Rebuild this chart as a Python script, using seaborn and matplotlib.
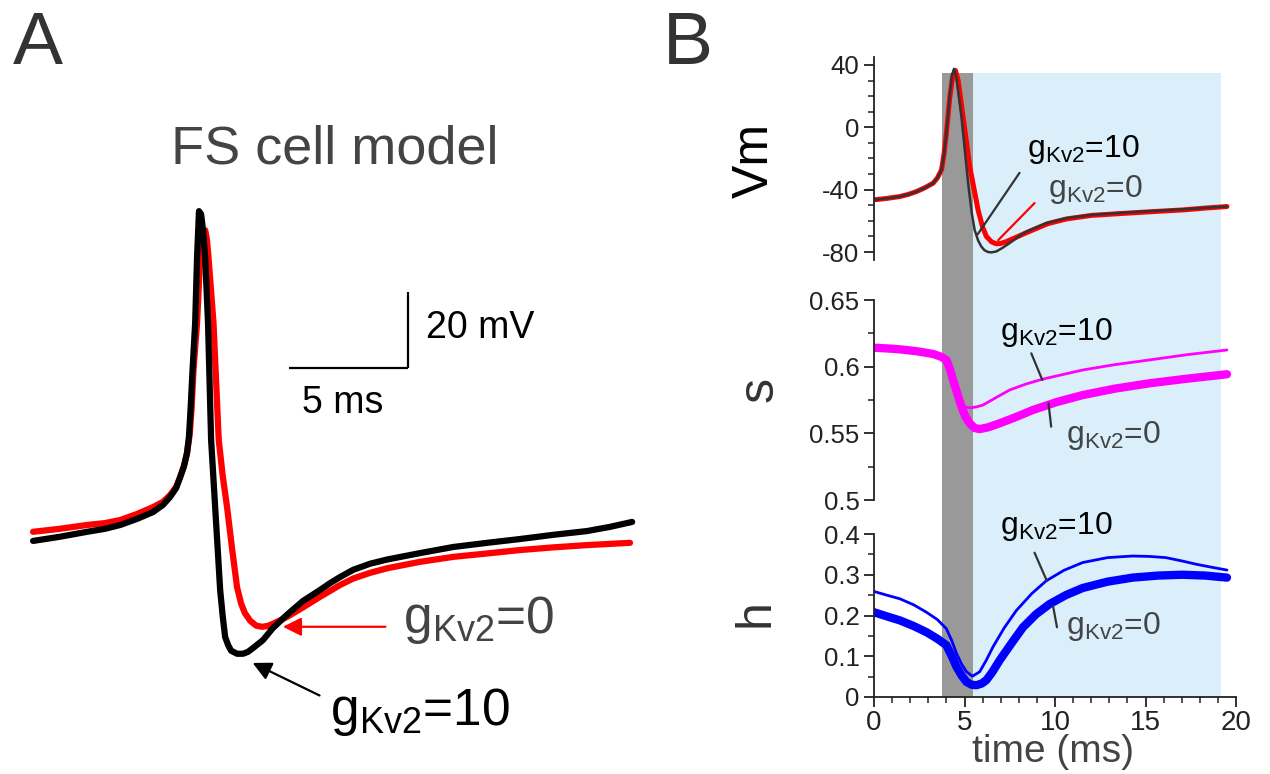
import matplotlib
matplotlib.use("Agg")
import matplotlib.pyplot as plt
from matplotlib.ticker import MultipleLocator
import seaborn as sns

# ---- panel A: FS cell model, membrane potential (ms, mV) ----
a_t_g0 = [0, 1.13, 2.27, 3.03, 3.66, 4.37, 5.04, 5.46, 5.76, 6.01, 6.18, 6.34, 6.47, 6.58, 6.66, 6.74,
          6.89, 7.02, 7.14, 7.23, 7.30, 7.37, 7.58, 7.80, 7.97, 8.15, 8.36, 8.57, 8.74, 8.90, 9.12,
          9.37, 9.62, 9.85, 10.08, 10.67, 11.34, 12.06, 12.90, 13.45, 14.16, 14.87, 16.26, 17.65,
          19.08, 20.46, 21.85, 23.28, 25.08]
a_v_g0 = [-44.6, -43.8, -42.8, -42.3, -41.5, -39.9, -38.1, -36.7, -34.9, -32.8, -30.2, -27.3, -23.8, -19.0, -12.0, -2.0,
          10.4, 27.7, 32.5, 34.8, 32.5, 27.7, 10.4, -20.4, -30.0, -38.1, -49.0, -59.2, -63.5, -66.0, -68.0,
          -69.3, -69.6, -69.4, -68.8, -67.0, -64.5, -61.7, -58.6, -56.9, -55.4, -54.2, -52.5, -51.2,
          -50.3, -49.4, -48.7, -48.1, -47.5]
a_t_g10 = [0, 1.13, 2.27, 3.03, 3.66, 4.37, 5.04, 5.46, 5.76, 6.01, 6.18, 6.34, 6.47, 6.55, 6.62, 6.70,
           6.81, 6.89, 6.97, 7.06, 7.14, 7.23, 7.35, 7.48, 7.65, 7.86, 7.97, 8.07, 8.20, 8.32, 8.57,
           8.82, 9.03, 9.24, 9.66, 10.08, 10.71, 11.34, 12.06, 12.48, 12.90, 13.45, 14.16, 14.87,
           16.26, 17.65, 19.08, 20.46, 21.85, 23.28, 24.24, 25.17]
a_v_g10 = [-47.0, -45.9, -44.6, -43.8, -42.8, -41.2, -39.4, -37.5, -35.4, -33.1, -30.2, -27.3, -23.8, -19.5, -12.0, -2.0,
           10.4, 27.7, 39.8, 39.0, 34.8, 27.7, 10.4, -20.4, -38.1, -59.9, -67.0, -72.3, -74.5, -75.9, -76.7,
           -76.7, -76.2, -75.2, -73.1, -69.9, -66.2, -62.8, -59.9, -58.1, -56.5, -54.6, -53.0, -51.9,
           -50.2, -48.6, -47.5, -46.5, -45.4, -44.4, -43.3, -42.0]

# ---- panel B: Vm, s and h vs time ----
vm_t_g0 = [0, 0.7, 1.43, 1.9, 2.35, 2.8, 3.27, 3.5, 3.73, 3.87, 4.0, 4.19, 4.35, 4.5, 4.65, 4.92,
           5.29, 5.75, 6.0, 6.21, 6.5, 6.76, 7.0, 7.31, 7.8, 8.3, 8.78, 9.6, 10.62, 12.0, 13.92,
           15.5, 17.04, 18.3, 19.5]
vm_g0 = [-46.5, -45.6, -44.4, -43.0, -41.2, -38.8, -35.8, -32.5, -27.3, -17.0, -3.6, 19.7, 33.0, 36.5, 30.0, 6.9,
         -25.2, -53.0, -64.0, -70.0, -73.5, -74.7, -74.5, -73.3, -70.8, -68.2, -65.8, -61.8, -58.8, -56.5, -55.1,
         -54.0, -53.0, -51.8, -50.8]
vm_t_g10 = [0, 0.7, 1.43, 1.9, 2.35, 2.8, 3.27, 3.5, 3.73, 3.87, 4.0, 4.19, 4.3, 4.42, 4.55, 4.83,
            5.2, 5.4, 5.56, 5.75, 5.93, 6.1, 6.3, 6.5, 6.76, 7.1, 7.49, 7.95, 8.41, 9.5, 10.62, 12.0,
            13.92, 15.5, 17.04, 18.3, 19.5]
vm_g10 = [-46.5, -45.6, -44.4, -43.0, -41.2, -38.8, -35.8, -32.5, -27.3, -17.0, -3.6, 21.0, 33.0, 37.5, 32.0, 6.9,
          -35.8, -55.0, -65.8, -72.5, -76.5, -78.8, -80.0, -80.2, -79.6, -77.3, -74.3, -70.4, -66.9, -61.5, -58.3,
          -56.2, -54.6, -53.6, -52.6, -51.6, -50.8]

s_t_g0 = [0, 0.7, 1.43, 2.4, 3.27, 3.7, 4.0, 4.2, 4.37, 4.6, 4.83, 5.05, 5.29, 5.55, 5.84, 6.3,
          6.94, 7.8, 8.78, 10.1, 11.53, 13.3, 15.2, 17.3, 19.5]
s_g0 = [0.6142, 0.6137, 0.613, 0.6115, 0.6095, 0.6075, 0.605, 0.598, 0.590, 0.580, 0.570, 0.5625, 0.5575,
        0.554, 0.5532, 0.5545, 0.5575, 0.562, 0.5675, 0.5735, 0.5787, 0.5835, 0.5875, 0.591, 0.5943]
s_t_g10 = [0, 0.7, 1.43, 2.4, 3.27, 3.7, 4.0, 4.2, 4.37, 4.6, 4.83, 5.1, 5.38, 5.7, 6.02, 6.7,
           7.49, 8.4, 9.33, 10.4, 11.53, 13.3, 15.2, 17.3, 19.5]
s_g10 = [0.6142, 0.6137, 0.613, 0.6115, 0.6095, 0.6075, 0.605, 0.598, 0.590, 0.580, 0.5725, 0.5695, 0.5692,
         0.570, 0.5712, 0.5765, 0.5825, 0.587, 0.5907, 0.594, 0.5975, 0.6015, 0.605, 0.609, 0.6125]

h_t_g0 = [0, 0.7, 1.43, 2.2, 2.9, 3.5, 4.0, 4.3, 4.56, 4.85, 5.11, 5.4, 5.66, 5.95, 6.21, 6.55,
          6.94, 7.6, 8.23, 8.95, 9.70, 10.6, 11.53, 12.9, 14.29, 15.7, 17.04, 18.3, 19.5]
h_g0 = [0.208, 0.198, 0.188, 0.174, 0.159, 0.143, 0.127, 0.100, 0.074, 0.052, 0.037, 0.030, 0.029, 0.033,
        0.0415, 0.062, 0.090, 0.132, 0.171, 0.203, 0.228, 0.250, 0.2675, 0.283, 0.293, 0.298, 0.300, 0.298, 0.293]
h_t_g10 = [0, 0.7, 1.43, 2.2, 2.9, 3.5, 4.0, 4.3, 4.56, 4.85, 5.11, 5.44, 5.84, 6.2, 6.57, 7.2,
           7.86, 8.7, 9.51, 10.5, 11.53, 12.9, 14.29, 15.2, 16.13, 17.0, 17.78, 18.7, 19.5]
h_g10 = [0.259, 0.250, 0.241, 0.226, 0.208, 0.190, 0.1675, 0.138, 0.1066, 0.080, 0.062, 0.051, 0.062, 0.090,
         0.1227, 0.170, 0.212, 0.253, 0.285, 0.311, 0.330, 0.342, 0.346, 0.345, 0.342, 0.334, 0.326, 0.318, 0.3115]

# shaded windows (ms)
spike_window = (3.78, 5.47)
ahp_window = (5.47, 19.16)

W, H = 1270, 774

sns.set_theme(style="ticks")
plt.rcParams["font.family"] = ["Liberation Sans", "DejaVu Sans"]
plt.rcParams["mathtext.fontset"] = "custom"
plt.rcParams["mathtext.rm"] = "Liberation Sans"
plt.rcParams["mathtext.it"] = "Liberation Sans:italic"
plt.rcParams["mathtext.bf"] = "Liberation Sans:bold"
plt.rcParams["axes.facecolor"] = "none"
plt.rcParams["axes.unicode_minus"] = False
plt.rcParams["lines.solid_joinstyle"] = "round"
plt.rcParams["lines.solid_capstyle"] = "round"

DARK = "#222222"
GREY = "#444444"


def gk(val):
    return r"g$_{\mathrm{Kv2}}$=" + val


def box(x0, y0, x1, y1):
    # pixel box (top-left origin) -> figure rect
    return [x0 / W, 1 - y1 / H, (x1 - x0) / W, (y1 - y0) / H]


def ftext(x, y, s, **kw):
    fig.text(x / W, 1 - y / H, s, ha="center", va="center", **kw)


def style_axis(ax):
    ax.tick_params(which="major", direction="out", length=7, width=1.3, colors=DARK, labelsize=18.5)
    ax.tick_params(which="minor", direction="out", length=4, width=1.1, colors=DARK)
    for sp in ax.spines.values():
        sp.set_linewidth(1.3)
        sp.set_color(DARK)


def trace(ax, t, v, color, lw):
    sns.lineplot(x=t, y=v, ax=ax, color=color, linewidth=lw, sort=False, estimator=None)


fig = plt.figure(figsize=(W / 100, H / 100), dpi=100)

# ---------------- panel A ----------------
axA = fig.add_axes(box(0, 180, 640, 740))
trace(axA, a_t_g0, a_v_g0, "#ff0000", 4.5)
trace(axA, a_t_g10, a_v_g10, "black", 4.5)
axA.set_xlim(-1.39, 25.5)
axA.set_ylim(-99.4, 48)
axA.axis("off")

# scale bar: 5 ms, 20 mV
axA.plot([10.76, 15.76], [-1.5, -1.5], color="black", lw=1.6, solid_capstyle="butt")
axA.plot([15.76, 15.76], [-1.5, 18.5], color="black", lw=1.6, solid_capstyle="butt")
axA.text(16.5, 9.0, "20 mV", fontsize=27, color="black", ha="left", va="center")
axA.text(11.3, -10.7, "5 ms", fontsize=27, color="black", ha="left", va="center")

axA.annotate("", xy=(10.38, -69.6), xytext=(14.92, -69.6),
             arrowprops=dict(arrowstyle="-|>", color="#ff0000", lw=1.6, mutation_scale=28))
axA.annotate("", xy=(9.12, -78.8), xytext=(12.14, -88.0),
             arrowprops=dict(arrowstyle="-|>", color="black", lw=1.6, mutation_scale=28))
axA.text(15.55, -71.2, gk("0"), fontsize=37, color=GREY, ha="left", va="baseline")
axA.text(12.48, -95.4, gk("10"), fontsize=37, color="black", ha="left", va="baseline")

# ---------------- panel B ----------------
axBg = fig.add_axes(box(874, 73, 1236, 697))
axBg.set_xlim(0, 20)
axBg.set_ylim(0, 1)
axBg.axvspan(*spike_window, color="#999999", lw=0)
axBg.axvspan(*ahp_window, color="#dbeffa", lw=0)
axBg.axis("off")

axV = fig.add_axes(box(874, 57, 1236, 260))
axS = fig.add_axes(box(874, 300, 1236, 500))
axH = fig.add_axes(box(874, 534, 1236, 697))

trace(axV, vm_t_g0, vm_g0, "#ff0000", 3.6)
trace(axV, vm_t_g10, vm_g10, "#333333", 1.8)
trace(axS, s_t_g0, s_g0, "#ff00ff", 6)
trace(axS, s_t_g10, s_g10, "#ff00ff", 2)
trace(axH, h_t_g0, h_g0, "#0000ff", 6)
trace(axH, h_t_g10, h_g10, "#0000ff", 2)

for ax in (axV, axS, axH):
    ax.set_xlim(0, 20)
    style_axis(ax)
    ax.spines["top"].set_visible(False)
    ax.spines["right"].set_visible(False)
    ax.set_xlabel("")
    ax.set_ylabel("")

for ax in (axV, axS):
    ax.spines["bottom"].set_visible(False)
    ax.tick_params(axis="x", which="both", bottom=False, labelbottom=False)

axV.set_ylim(-85.1, 45.1)
axV.set_yticks([-80, -40, 0, 40])
axV.yaxis.set_minor_locator(MultipleLocator(10))

axS.set_ylim(0.5, 0.65)
axS.set_yticks([0.5, 0.55, 0.6, 0.65])
axS.set_yticklabels(["0.5", "0.55", "0.6", "0.65"])
axS.yaxis.set_minor_locator(MultipleLocator(0.025))

axH.set_ylim(0, 0.4)
axH.set_yticks([0, 0.1, 0.2, 0.3, 0.4])
axH.set_yticklabels(["0", "0.1", "0.2", "0.3", "0.4"])
axH.yaxis.set_minor_locator(MultipleLocator(0.05))
axH.set_xticks([0, 5, 10, 15, 20])
axH.xaxis.set_minor_locator(MultipleLocator(1))
axH.tick_params(axis="x", labelsize=20, pad=2)

# curve labels and pointers
axV.plot([8.04, 5.73], [-29.2, -68.6], color="#333333", lw=1.6)
axV.plot([8.87, 6.86], [-48.6, -72.4], color="#ff0000", lw=1.6)
axV.text(8.48, -19, gk("10"), fontsize=23, color="black", ha="left", va="baseline")
axV.text(9.59, -44.6, gk("0"), fontsize=23, color=GREY, ha="left", va="baseline")

axS.plot([8.69, 9.30], [0.610, 0.590], color="#333333", lw=1.6)
axS.plot([9.64, 9.79], [0.5725, 0.555], color="#333333", lw=1.6)
axS.text(6.94, 0.620, gk("10"), fontsize=23, color="black", ha="left", va="baseline")
axS.text(10.62, 0.5425, gk("0"), fontsize=23, color=GREY, ha="left", va="baseline")

axH.plot([8.87, 9.55], [0.354, 0.285], color="#333333", lw=1.6)
axH.plot([9.89, 10.11], [0.224, 0.171], color="#333333", lw=1.6)
axH.text(6.94, 0.400, gk("10"), fontsize=23, color="black", ha="left", va="baseline")
axH.text(10.6, 0.155, gk("0"), fontsize=23, color=GREY, ha="left", va="baseline")

# axis labels and panel letters
ftext(755, 160, "Vm", fontsize=36, color="black", rotation=90)
ftext(760, 390, "s", fontsize=36, color="#333333", rotation=90)
ftext(755, 613, "h", fontsize=36, color="#333333", rotation=90)
ftext(1053, 752, "time (ms)", fontsize=28, color=GREY)
ftext(38, 45, "A", fontsize=54, color="#333333")
ftext(688, 45, "B", fontsize=54, color="#333333")
ftext(335, 150, "FS cell model", fontsize=39, color=GREY)

fig.savefig("out.png", dpi=100)
